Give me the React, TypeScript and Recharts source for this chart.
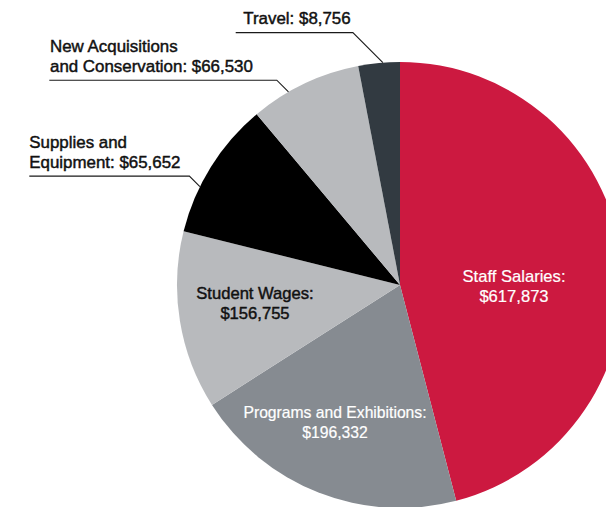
import React from 'react';
import { PieChart, Pie, Cell } from 'recharts';

// Slice shares (percent of the circle)
const categories = [
  'Staff Salaries',
  'Programs and Exhibitions',
  'Student Wages',
  'Supplies and Equipment',
  'New Acquisitions and Conservation',
  'Travel',
];
const shares = [45.9, 20.0, 12.9, 10.0, 8.1, 3.0];
const amounts = ['$617,873', '$196,332', '$156,755', '$65,652', '$66,530', '$8,756'];
const labelLines = [
  ['Staff Salaries:', '$617,873'],
  ['Programs and Exhibitions:', '$196,332'],
  ['Student Wages:', '$156,755'],
  ['Supplies and', 'Equipment: $65,652'],
  ['New Acquisitions', 'and Conservation: $66,530'],
  ['Travel: $8,756'],
];
const colors = ['#cc1940', '#868b91', '#b8babd', '#000000', '#b8babd', '#323a41'];

const data = categories.map((name, i) => ({ name, value: shares[i], amount: amounts[i] }));

const FONT = '"Liberation Sans", Arial, Helvetica, sans-serif';

// label layout (style only)
const INNER: Record<number, { dx: number; dy: number; fill: string; size: number; sw: number }> = {
  0: { dx: 114, dy: -3.3, fill: '#ffffff', size: 16.6, sw: 0.2 },
  1: { dx: -65, dy: 132.7, fill: '#ffffff', size: 15.7, sw: 0.2 },
  2: { dx: -145, dy: 14, fill: '#111111', size: 16.6, sw: 0.45 },
};
const OUTER: Record<number, { shift: number; diag: number; left: number; pad: number }> = {
  3: { shift: -5.8, diag: 10.5, left: 370.7, pad: 0 },
  4: { shift: -4.6, diag: 11.7, left: 350.7, pad: 0.7 },
  5: { shift: 1.0, diag: 30, left: 164.3, pad: 7.6 },
};

const renderLabel = (props: any) => {
  const { cx, cy, midAngle, outerRadius, index } = props;
  const lines = labelLines[index];
  const inner = INNER[index];
  if (inner) {
    return (
      <text
        textAnchor="middle"
        fill={inner.fill}
        fontFamily={FONT}
        fontSize={inner.size}
        stroke={inner.fill}
        strokeWidth={inner.sw}
      >
        {lines.map((l, i) => (
          <tspan key={i} x={cx + inner.dx} y={cy + inner.dy + i * 20}>
            {l}
          </tspan>
        ))}
      </text>
    );
  }
  const o = OUTER[index];
  const a = ((midAngle - o.shift) * Math.PI) / 180;
  const ax = cx + outerRadius * Math.cos(-a);
  const ay = cy + outerRadius * Math.sin(-a);
  const ex = ax - o.diag;
  const ey = ay - o.diag;
  const lx = cx - o.left;
  const n = lines.length;
  return (
    <g>
      <path d={`M${ax},${ay}L${ex},${ey}L${lx},${ey}`} stroke="#1a1a1a" strokeWidth={1.1} fill="none" />
      <text fill="#111111" fontFamily={FONT} fontSize={16.9} stroke="#111111" strokeWidth={0.45}>
        {lines.map((l, i) => (
          <tspan key={i} x={lx + o.pad} y={ey - 8.3 - (n - 1 - i) * 19.5}>
            {l}
          </tspan>
        ))}
      </text>
    </g>
  );
};

export default function App() {
  return (
    <div style={{ position: 'absolute', left: 0, top: 0, width: 606, height: 507, background: '#ffffff' }}>
      <PieChart width={606} height={507} margin={{ top: 0, right: 0, bottom: 0, left: 0 }}>
        <Pie
          data={data}
          dataKey="value"
          nameKey="name"
          cx={400}
          cy={285}
          outerRadius={223}
          startAngle={90}
          endAngle={-270}
          stroke="none"
          isAnimationActive={false}
          label={renderLabel}
          labelLine={false}
        >
          {data.map((d, i) => (
            <Cell key={d.name} fill={colors[i]} />
          ))}
        </Pie>
      </PieChart>
    </div>
  );
}
